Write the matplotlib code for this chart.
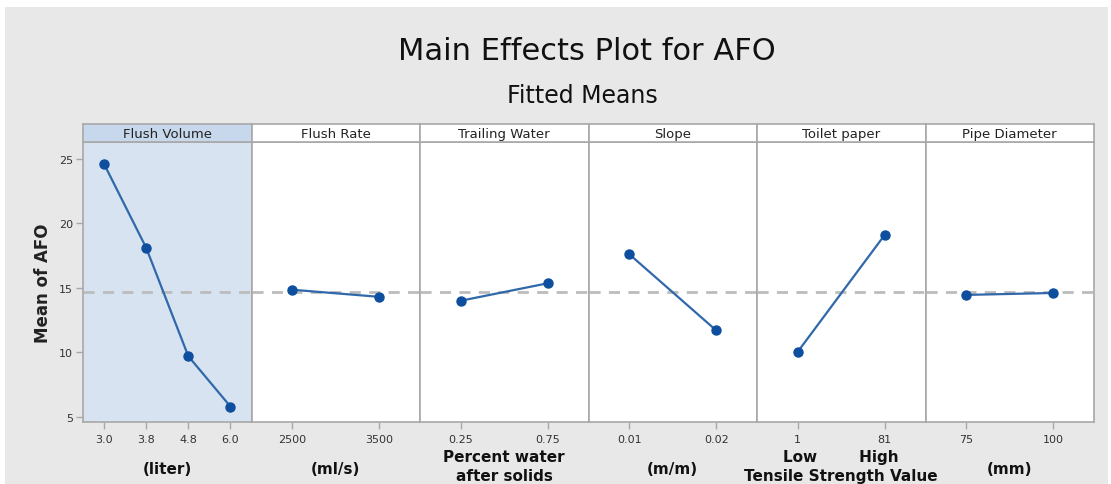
"""Main effects plot for AFO (fitted means), recreated with matplotlib."""
import matplotlib
matplotlib.use("Agg")
import matplotlib.pyplot as plt
from matplotlib.patches import Rectangle

# ---- data ----
factors = ["Flush Volume", "Flush Rate", "Trailing Water", "Slope", "Toilet paper", "Pipe Diameter"]
flush_volume_levels = ["3.0", "3.8", "4.8", "6.0"]
flush_volume_means = [24.6, 18.1, 9.7, 5.8]
flush_rate_levels = ["2500", "3500"]
flush_rate_means = [14.85, 14.3]
trailing_water_levels = ["0.25", "0.75"]
trailing_water_means = [14.0, 15.35]
slope_levels = ["0.01", "0.02"]
slope_means = [17.6, 11.7]
toilet_paper_levels = ["1", "81"]
toilet_paper_means = [10.05, 19.1]
pipe_diameter_levels = ["75", "100"]
pipe_diameter_means = [14.45, 14.6]
grand_mean = 14.65
unit_labels = ["(liter)", "(ml/s)", "Percent water\nafter solids", "(m/m)",
               "Low        High\nTensile Strength Value", "(mm)"]

levels = [flush_volume_levels, flush_rate_levels, trailing_water_levels,
          slope_levels, toilet_paper_levels, pipe_diameter_levels]
means = [flush_volume_means, flush_rate_means, trailing_water_means,
         slope_means, toilet_paper_means, pipe_diameter_means]

W, H = 1111, 485
BG = "#e8e8e8"
EDGE = "#a8a8a8"
LINE = "#3068aa"
DOT = "#0d4f9e"

fig = plt.figure(figsize=(W / 100, H / 100), dpi=100, facecolor="white")
fig.patches.append(Rectangle((5 / W, 0), 1 - 8 / W, 1 - 8 / H, transform=fig.transFigure,
                             facecolor=BG, edgecolor="none", zorder=-10))

fig.text(0.528, 1 - 52 / H, "Main Effects Plot for AFO", ha="center", va="center",
         fontsize=22, color="#111111")
fig.text(0.524, 1 - 96 / H, "Fitted Means", ha="center", va="center",
         fontsize=17, color="#111111")

left0, right0 = 83, 1094
pw = (right0 - left0) / len(factors)
top, bottom, head_top = 143, 423, 125

axes = []
for i, name in enumerate(factors):
    x0 = (left0 + i * pw) / W
    ax = fig.add_axes([x0, (H - bottom) / H, pw / W, (bottom - top) / H],
                      sharey=axes[0] if axes else None)
    axes.append(ax)
    n = len(levels[i])
    xs = list(range(n))
    ax.set_facecolor("#d7e3f1" if i == 0 else "white")
    ax.axhline(grand_mean, color="#bcbcbc", ls=(0, (4, 3)), lw=2, zorder=1)
    ax.plot(xs, means[i], color=LINE, lw=1.6, marker="o", ms=6.5,
            mfc=DOT, mec=DOT, zorder=3)
    pad = 0.5 if n > 2 else 0.47
    ax.set_xlim(-pad, n - 1 + pad)
    ax.set_ylim(4.6, 26.3)
    ax.set_xticks(xs)
    ax.set_xticklabels(levels[i])
    ax.tick_params(axis="x", length=5, width=1, color=EDGE, labelsize=8,
                   labelcolor="#333333", pad=4)
    for s in ax.spines.values():
        s.set_color(EDGE)
        s.set_linewidth(1.2)
    if i == 0:
        ax.set_yticks([5, 10, 15, 20, 25])
        ax.tick_params(axis="y", length=5, width=1, color=EDGE, labelsize=8,
                       labelcolor="#333333", pad=2)
        ax.set_ylabel("Mean of AFO", fontsize=12, fontweight="bold", color="#222222",
                      labelpad=5)
    else:
        ax.tick_params(axis="y", left=False, labelleft=False)

    # strip header
    hx = fig.add_axes([x0, (H - top) / H, pw / W, (top - head_top) / H])
    hx.set_facecolor("#c8d8ec" if i == 0 else "white")
    hx.set_xticks([])
    hx.set_yticks([])
    for s in hx.spines.values():
        s.set_color(EDGE)
        s.set_linewidth(1.2)
    hx.text(0.5, 0.45, name, ha="center", va="center", fontsize=9.5,
            color="#222222", transform=hx.transAxes)

    # unit label under each panel
    cx = (left0 + (i + 0.5) * pw) / W
    lab = unit_labels[i]
    if "\n" in lab:
        fig.text(cx, 1 - 467 / H, lab, ha="center", va="center", fontsize=11,
                 fontweight="bold", color="#111111", linespacing=1.3)
    else:
        fig.text(cx, 1 - 470 / H, lab, ha="center", va="center", fontsize=11,
                 fontweight="bold", color="#111111")

fig.savefig("out.png", dpi=100, facecolor=fig.get_facecolor())
